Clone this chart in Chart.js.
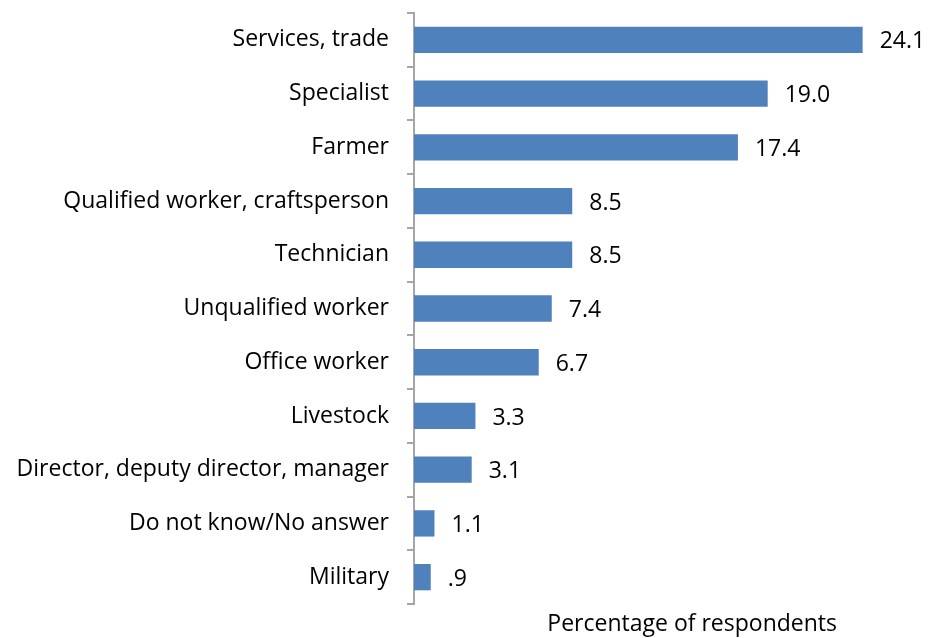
<!DOCTYPE html>
<html>
<head>
<meta charset="utf-8">
<script src="https://cdn.jsdelivr.net/npm/chart.js@4/dist/chart.umd.min.js"></script>
<style>
  html, body { margin: 0; padding: 0; background: #ffffff; }
  #wrap { width: 928px; height: 638px; }
</style>
</head>
<body>
<div id="wrap"><canvas id="chart" width="928" height="638"></canvas></div>
<script>
// Occupation of respondents, percent
const categories = [
  "Services, trade",
  "Specialist",
  "Farmer",
  "Qualified worker, craftsperson",
  "Technician",
  "Unqualified worker",
  "Office worker",
  "Livestock",
  "Director, deputy director, manager",
  "Do not know/No answer",
  "Military"
];
const percentages = [24.1, 19.0, 17.4, 8.5, 8.5, 7.4, 6.7, 3.3, 3.1, 1.1, 0.9];
const axisTitle = "Percentage of respondents";

const FONT = "'Open Sans', sans-serif";
const FONT_SIZE = 23;

// Formats values the way the labels show them: one decimal, no leading zero
function fmt(v) {
  let s = v.toFixed(1);
  if (s.startsWith("0.")) s = s.slice(1);
  return s;
}

// Value printed to the right of each bar
const valueLabels = {
  id: "valueLabels",
  afterDatasetsDraw(chart) {
    const ctx = chart.ctx;
    const meta = chart.getDatasetMeta(0);
    ctx.save();
    ctx.font = FONT_SIZE + "px " + FONT;
    ctx.fillStyle = "#000000";
    ctx.textAlign = "left";
    ctx.textBaseline = "middle";
    meta.data.forEach((bar, i) => {
      ctx.fillText(fmt(chart.data.datasets[0].data[i]), bar.x + 17, bar.y + 2);
    });
    ctx.restore();
  }
};

// Axis title set a little right of the plot centre, under the bars
const xTitle = {
  id: "xTitle",
  afterDraw(chart) {
    const ctx = chart.ctx;
    const area = chart.chartArea;
    ctx.save();
    ctx.font = FONT_SIZE + "px " + FONT;
    ctx.fillStyle = "#000000";
    ctx.textAlign = "right";
    ctx.textBaseline = "alphabetic";
    ctx.fillText(axisTitle, area.right - 61, area.bottom + 27);
    ctx.restore();
  }
};

new Chart(document.getElementById("chart"), {
  type: "bar",
  data: {
    labels: categories,
    datasets: [{
      data: percentages,
      backgroundColor: "#4F81BD",
      borderWidth: 0,
      categoryPercentage: 1.0,
      barPercentage: 0.49
    }]
  },
  options: {
    indexAxis: "y",
    responsive: false,
    animation: false,
    layout: { padding: { top: 13, right: 30, left: 0, bottom: 0 } },
    plugins: {
      legend: { display: false },
      tooltip: { enabled: false }
    },
    scales: {
      x: {
        min: 0,
        max: 26,
        grid: { display: false },
        border: { display: false },
        ticks: { display: false },
        afterFit(scale) { scale.height = 34; }
      },
      y: {
        grid: {
          display: true,
          drawOnChartArea: false,
          drawTicks: true,
          tickLength: 7,
          offset: true,
          color: "#A6A6A6",
          lineWidth: 2
        },
        border: { display: true, color: "#A6A6A6", width: 2 },
        ticks: {
          color: "#000000",
          font: { family: FONT, size: FONT_SIZE },
          padding: 18,
          autoSkip: false
        },
        afterFit(scale) {
          scale.width = 414;
          scale.paddingTop = 0;
          scale.paddingBottom = 0;
        }
      }
    }
  },
  plugins: [valueLabels, xTitle]
});
</script>
</body>
</html>
